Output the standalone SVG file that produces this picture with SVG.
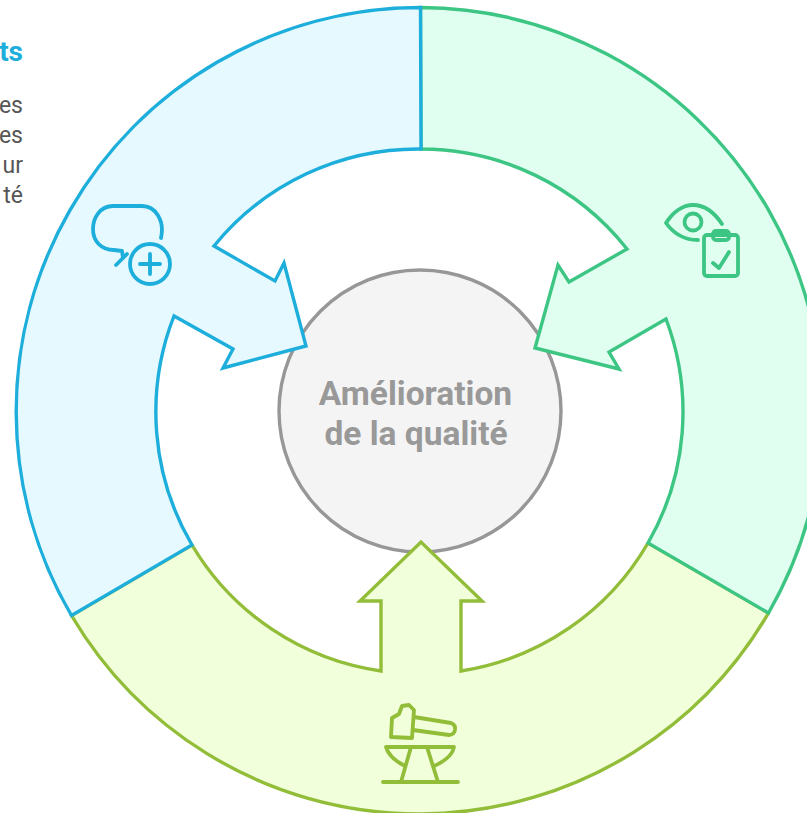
<svg xmlns="http://www.w3.org/2000/svg" width="807" height="813" viewBox="0 0 807 813">
<style>
.seg{stroke-width:3.4;stroke-linejoin:miter}
.ic{fill:none;stroke-width:3.8;stroke-linecap:round;stroke-linejoin:round}
.blue{stroke:#1eaedb}.green{stroke:#3cc583}.lime{stroke:#92bd39}
text{font-family:Roboto,"Liberation Sans",sans-serif}
.body{font-size:23px;fill:#565656;text-anchor:end}
</style>
<rect width="807" height="813" fill="#fff"/>
<g id="connectors"></g>
<g id="center">
<circle cx="420" cy="411" r="141" fill="#f4f4f4" stroke="#979797" stroke-width="3.4"/>
<text x="415.5" y="405" font-size="33.5" font-weight="700" fill="#999" text-anchor="middle">Amélioration</text>
<text x="416" y="445" font-size="33.5" font-weight="700" fill="#999" text-anchor="middle">de la qualité</text>
</g>
<g id="segment-lime">
<path class="seg lime" fill="#f2ffdb" d="M71.5 615.5A404 404 0 0 0 768.5 613L648 543A263 263 0 0 1 461 671V601H482L421 542L360 601H381V671A263 263 0 0 1 192 545Z"/>
<g class="ic lime"><path d="M391 737L392 718L399 714L402 706L409 705L414 710L412 738Z"/><path d="M414 717L451 723Q456 725 455 730Q454 735 449 735L413 730"/><path d="M386 747H454Q452 758 434 766M386 747Q389 758 405 766M411 747L401 782M427 747L438 782M383 782H458"/></g>
</g>
<g id="segment-green">
<path class="seg green" fill="#e0fff0" d="M420.5 7.5A404 404 0 0 1 768.5 613L648 543A263 263 0 0 0 666 319L609 352L619 369L535 348L558 265L569 282L627 249A263 263 0 0 0 421 149Z"/>
<g class="ic green"><path d="M722 224C712 209 702 205 693 205C683 205 673 212 666 223C674 234 684 240 698 240"/><circle cx="693" cy="222" r="8.5"/><rect x="704" y="235" width="34" height="41" rx="3"/><rect x="713" y="231" width="16" height="9" rx="3"/><path d="M713 263L719 268L729 252"/></g>
</g>
<g id="segment-blue">
<path class="seg blue" fill="#e6f9ff" d="M420.5 7.5A404 404 0 0 0 71.5 615.5L192 545A263 263 0 0 1 174 316L233 349L223 368L306 346L284 263L275 281L214 246A263 263 0 0 1 421 149Z"/>
<g class="ic blue"><path d="M161 238C165 220 155 206 142 206H113C100 206 93 218 93 229C93 241 101 250 114 250L122 251L123 258L116 265M123 258L127 254"/><circle cx="150" cy="264" r="20"/><path d="M150 254V274M140 264H160"/></g>
</g>
<g id="caption">
<text x="23" y="61" font-size="28" font-weight="700" fill="#1eaedb" text-anchor="end">ts</text>
<text class="body" x="23" y="113">es</text>
<text class="body" x="23" y="143">es</text>
<text class="body" x="23" y="173">ur</text>
<text class="body" x="23" y="203">té</text>
</g>
</svg>
